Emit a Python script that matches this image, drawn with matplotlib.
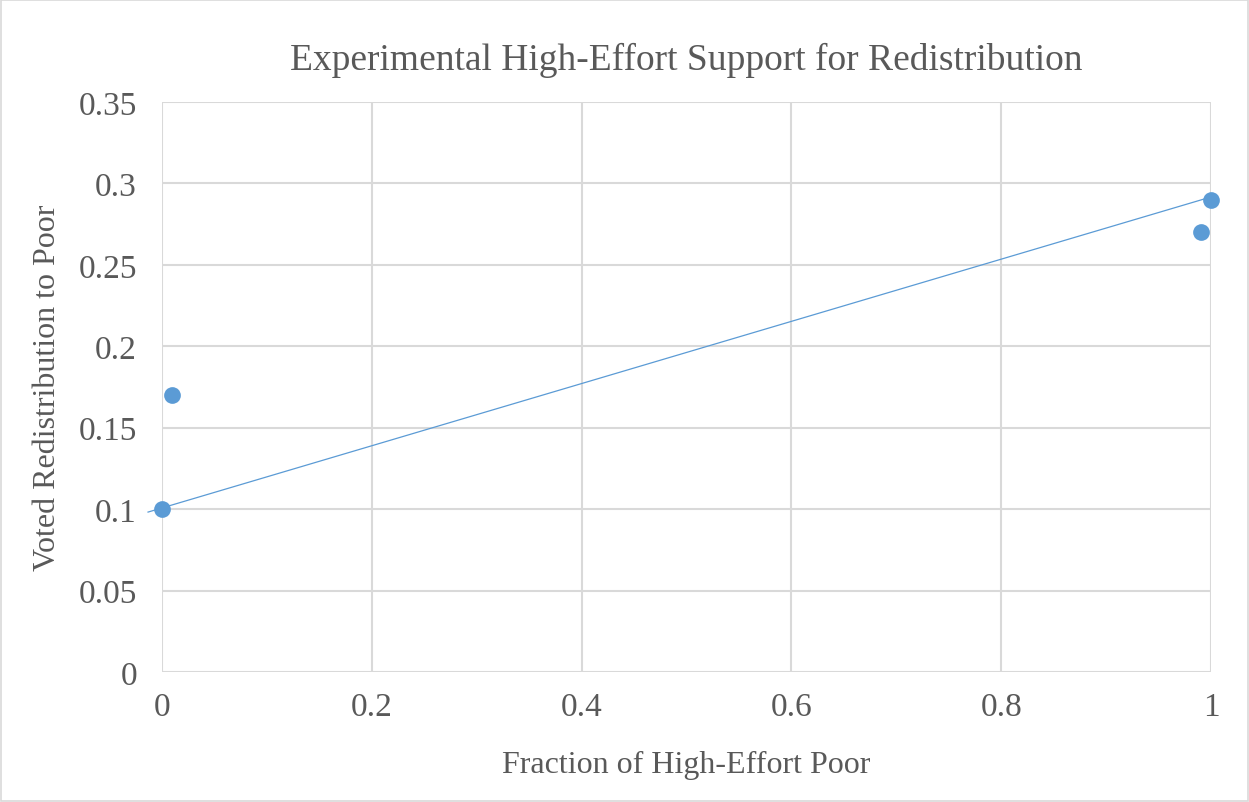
import matplotlib
matplotlib.use('Agg')
import matplotlib.pyplot as plt
from matplotlib.patches import Rectangle

# observed votes
frac_high_effort = [0.0, 0.01, 0.99, 1.0]
voted_redistribution = [0.10, 0.17, 0.27, 0.29]

# linear trendline (backward forecast a bit past zero)
trend_x = [-0.0133, 1.0]
trend_y = [0.0982, 0.2917]

x_ticks = [0, 0.2, 0.4, 0.6, 0.8, 1.0]
x_tick_labels = ['0', '0.2', '0.4', '0.6', '0.8', '1']
y_ticks = [0, 0.05, 0.1, 0.15, 0.2, 0.25, 0.3, 0.35]
y_tick_labels = ['0', '0.05', '0.1', '0.15', '0.2', '0.25', '0.3', '0.35']

blue = '#5b9bd5'
grid = '#d9d9d9'
text = '#595959'

plt.rcParams['font.family'] = ['Liberation Serif', 'DejaVu Serif']

fig = plt.figure(figsize=(12.49, 8.03), dpi=100)
fig.patches.append(Rectangle((0.0008, 0.001), 0.9984, 0.9975, transform=fig.transFigure,
                             fill=False, edgecolor='#d9d9d9', linewidth=1.2))
ax = fig.add_axes([0.1297, 0.1619, 0.8399, 0.7098])

ax.plot(trend_x, trend_y, color=blue, linewidth=0.9, zorder=3, clip_on=False)
ax.scatter(frac_high_effort, voted_redistribution, s=145, color=blue, zorder=4, clip_on=False,
           linewidths=0)

ax.set_xlim(0, 1)
ax.set_ylim(0, 0.35)
ax.set_xticks(x_ticks)
ax.set_xticklabels(x_tick_labels)
ax.set_yticks(y_ticks)
ax.set_yticklabels(y_tick_labels)
ax.tick_params(length=0, labelsize=24, colors=text, pad=14)
ax.tick_params(axis='y', pad=18)

ax.grid(True, color=grid, linewidth=1.5)
ax.set_axisbelow(True)
for s in ax.spines.values():
    s.set_visible(False)

ax.set_title('Experimental High-Effort Support for Redistribution', fontsize=27, color=text, pad=24)
ax.set_xlabel('Fraction of High-Effort Poor', fontsize=23, color=text, labelpad=20)
ax.set_ylabel('Voted Redistribution to Poor', fontsize=23, color=text, labelpad=12)

fig.savefig('out.png', dpi=100)
